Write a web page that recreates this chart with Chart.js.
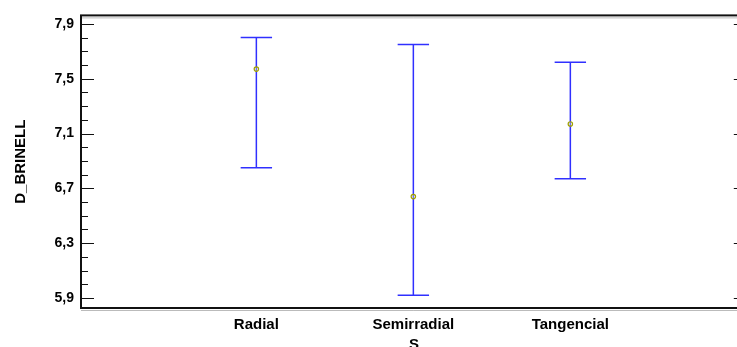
<!DOCTYPE html>
<html lang="es">
<head>
<meta charset="UTF-8">
<title>D_BRINELL por S</title>
<script src="https://cdn.jsdelivr.net/npm/chart.js"></script>
<style>
    html, body { margin: 0; padding: 0; background: #fff; overflow: hidden; width: 737px; height: 347px; }
    canvas { display: block; }
</style>
</head>
<body>
<canvas id="myChart" width="752" height="360"></canvas>
<script>
    // values
    var categories = ['Radial', 'Semirradial', 'Tangencial'];
    var means = [7.57, 6.64, 7.17];
    var lower = [6.85, 5.92, 6.77];
    var upper = [7.80, 7.75, 7.62];
    var yTicks = [5.9, 6.3, 6.7, 7.1, 7.5, 7.9];
    var yMin = 5.827, yMax = 7.962;

    var blue = '#3030ff';
    var capHalf = 0.1;

    var datasets = [];
    categories.forEach(function (c, i) {
        datasets.push({ type: 'line', data: [{ x: i, y: lower[i] }, { x: i, y: upper[i] }] });
        datasets.push({ type: 'line', data: [{ x: i - capHalf, y: upper[i] }, { x: i + capHalf, y: upper[i] }] });
        datasets.push({ type: 'line', data: [{ x: i - capHalf, y: lower[i] }, { x: i + capHalf, y: lower[i] }] });
    });
    datasets.forEach(function (d) {
        d.borderColor = blue;
        d.borderWidth = 1.5;
        d.pointRadius = 0;
        d.showLine = true;
    });
    datasets.push({
        type: 'scatter',
        data: means.map(function (m, i) { return { x: i, y: m }; }),
        pointStyle: 'circle',
        pointRadius: 2.2,
        borderWidth: 1.2,
        borderColor: '#a0a000',
        backgroundColor: 'rgba(255,255,210,0.3)',
        order: -1
    });

    // frame with inward ticks, like the original software
    var framePlugin = {
        id: 'frame',
        afterDraw: function (chart) {
            var ctx = chart.ctx, a = chart.chartArea, y = chart.scales.y;
            ctx.save();
            ctx.strokeStyle = '#111';
            ctx.lineWidth = 1;
            for (var v = 5.8; v <= 8.0001; v += 0.1) {
                var val = Math.round(v * 10) / 10;
                if (val < yMin || val > yMax) continue;
                var py = Math.round(y.getPixelForValue(val)) + 0.5;
                var major = yTicks.indexOf(val) >= 0;
                var len = major ? 13 : 7;
                ctx.beginPath();
                ctx.moveTo(a.left, py); ctx.lineTo(a.left + len, py);
                ctx.moveTo(a.right, py); ctx.lineTo(a.right - len, py);
                ctx.stroke();
            }
            ctx.strokeStyle = '#bbb';
            ctx.beginPath();
            ctx.moveTo(a.left, a.top + 2.5); ctx.lineTo(a.right, a.top + 2.5);
            ctx.moveTo(a.left, a.bottom + 2.5); ctx.lineTo(a.right, a.bottom + 2.5);
            ctx.stroke();
            ctx.strokeStyle = '#111';
            ctx.lineWidth = 2;
            ctx.strokeRect(a.left, a.top, a.right - a.left, a.bottom - a.top);
            ctx.restore();
        }
    };

    var boldFont = function (s) { return { family: 'Liberation Sans, Arial, sans-serif', size: s, weight: 'bold' }; };

    new Chart(document.getElementById('myChart'), {
        type: 'scatter',
        data: { datasets: datasets },
        options: {
            responsive: false,
            animation: false,
            layout: { padding: { top: 14, right: 3, left: 0, bottom: 0 } },
            plugins: { legend: { display: false }, tooltip: { enabled: false } },
            scales: {
                x: {
                    type: 'linear',
                    min: -1.117,
                    max: 3.124,
                    afterBuildTicks: function (s) { s.ticks = categories.map(function (c, i) { return { value: i }; }); },
                    afterFit: function (s) { s.height = 52; },
                    ticks: {
                        callback: function (v) { return categories[v]; },
                        font: boldFont(15),
                        color: '#000',
                        padding: 8,
                        maxRotation: 0,
                        autoSkip: false
                    },
                    grid: { display: false, drawTicks: false },
                    border: { display: false },
                    title: { display: true, text: 'S', font: boldFont(15), color: '#000', padding: { top: 0, bottom: 6 } }
                },
                y: {
                    min: yMin,
                    max: yMax,
                    afterBuildTicks: function (s) { s.ticks = yTicks.map(function (v) { return { value: v }; }); },
                    afterFit: function (s) { s.width = 81; },
                    ticks: {
                        callback: function (v) { return v.toFixed(1).replace('.', ','); },
                        font: boldFont(14),
                        color: '#000',
                        padding: 7
                    },
                    grid: { display: false, drawTicks: false },
                    border: { display: false },
                    title: { display: true, text: 'D_BRINELL', font: boldFont(15), color: '#000', padding: { top: 12, bottom: 0 } }
                }
            }
        },
        plugins: [framePlugin]
    });
</script>
</body>
</html>
